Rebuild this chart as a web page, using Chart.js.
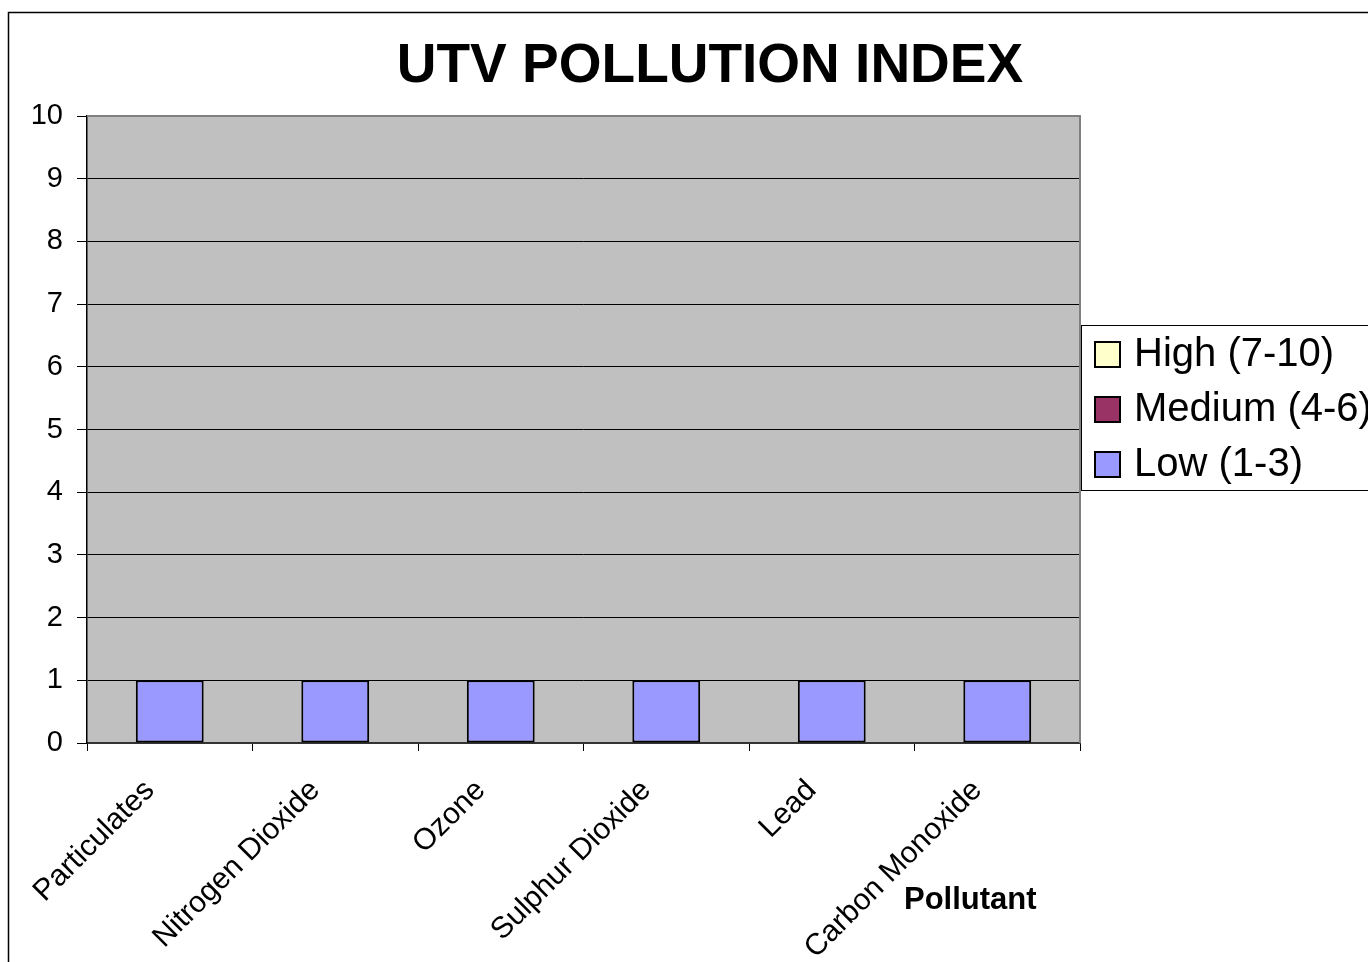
<!DOCTYPE html>
<html lang="en">
<head>
    <meta charset="UTF-8">
    <title>UTV Pollution Index</title>
    <script src="https://cdn.jsdelivr.net/npm/chart.js"></script>
    <style>
        html, body {
            margin: 0;
            padding: 0;
            background: #ffffff;
            overflow: hidden;
            width: 1368px;
            height: 962px;
        }
        canvas {
            display: block;
        }
    </style>
</head>
<body>
    <canvas id="pollutionChart" width="1420" height="980"></canvas>

    <script>
        const FONT = "'Liberation Sans', Arial, sans-serif";

        const pollutants = ["Particulates", "Nitrogen Dioxide", "Ozone", "Sulphur Dioxide", "Lead", "Carbon Monoxide"];
        const lowValues = [1, 1, 1, 1, 1, 1];
        const mediumValues = [0, 0, 0, 0, 0, 0];
        const highValues = [0, 0, 0, 0, 0, 0];
        const yTicks = [0, 1, 2, 3, 4, 5, 6, 7, 8, 9, 10];

        // gray plot area, outer frame, legend box and the axis title
        const excelLook = {
            id: "excelLook",
            beforeDraw(chart) {
                const ctx = chart.ctx;
                const a = chart.chartArea;
                ctx.save();
                ctx.fillStyle = "#ffffff";
                ctx.fillRect(0, 0, chart.width, chart.height);
                ctx.strokeStyle = "#000000";
                ctx.lineWidth = 1.5;
                ctx.strokeRect(8.5, 12.5, 3000, 3000);
                ctx.fillStyle = "#C0C0C0";
                ctx.fillRect(a.left, a.top, a.right - a.left, a.bottom - a.top);
                ctx.restore();
            },
            afterDraw(chart) {
                const ctx = chart.ctx;
                const a = chart.chartArea;
                ctx.save();

                // plot border top + right
                ctx.strokeStyle = "#808080";
                ctx.lineWidth = 2;
                ctx.beginPath();
                ctx.moveTo(a.left, a.top);
                ctx.lineTo(a.right, a.top);
                ctx.lineTo(a.right, a.bottom);
                ctx.stroke();

                // legend (reverse order, like a stacked column)
                const lx = a.right + 1, ly = 325;
                ctx.fillStyle = "#ffffff";
                ctx.fillRect(lx, ly, 400, 165);
                ctx.strokeStyle = "#000000";
                ctx.lineWidth = 1;
                ctx.strokeRect(lx + 0.5, ly + 0.5, 400, 165);
                const items = chart.data.datasets.slice().reverse();
                ctx.font = "40px " + FONT;
                ctx.textBaseline = "middle";
                ctx.textAlign = "left";
                items.forEach((ds, i) => {
                    const cy = ly + 29 + i * 55;
                    ctx.fillStyle = ds.backgroundColor;
                    ctx.fillRect(lx + 14, cy - 12, 25, 25);
                    ctx.lineWidth = 2;
                    ctx.strokeStyle = "#000000";
                    ctx.strokeRect(lx + 14, cy - 12, 25, 25);
                    ctx.fillStyle = "#000000";
                    ctx.fillText(ds.label, lx + 53, cy + 1);
                });

                // x axis title
                ctx.font = "bold 31px " + FONT;
                ctx.textBaseline = "alphabetic";
                ctx.fillStyle = "#000000";
                ctx.fillText("Pollutant", a.right - 176, a.bottom + 166);
                ctx.restore();
            }
        };

        new Chart(document.getElementById("pollutionChart"), {
            type: "bar",
            data: {
                labels: pollutants,
                datasets: [
                    { label: "Low (1-3)", data: lowValues, backgroundColor: "#9999FF", borderColor: "#000000", borderWidth: 2 },
                    { label: "Medium (4-6)", data: mediumValues, backgroundColor: "#993366", borderColor: "#000000", borderWidth: 2 },
                    { label: "High (7-10)", data: highValues, backgroundColor: "#FFFFCC", borderColor: "#000000", borderWidth: 2 }
                ]
            },
            options: {
                responsive: false,
                animation: false,
                layout: { padding: 0 },
                datasets: {
                    bar: { barPercentage: 0.41, categoryPercentage: 1, borderSkipped: false }
                },
                plugins: {
                    legend: { display: false },
                    tooltip: { enabled: false },
                    title: {
                        display: true,
                        text: "UTV POLLUTION INDEX",
                        color: "#000000",
                        font: { family: FONT, size: 55, weight: "bold" },
                        padding: { top: 34, bottom: 16 }
                    }
                },
                scales: {
                    x: {
                        stacked: true,
                        grid: { drawOnChartArea: false, drawTicks: true, tickLength: 8, color: "#000000", offset: true },
                        border: { display: true, color: "#333333", width: 2 },
                        ticks: {
                            color: "#000000",
                            font: { family: FONT, size: 30 },
                            maxRotation: 45,
                            minRotation: 45,
                            autoSkip: false,
                            padding: 22,
                            labelOffset: -20
                        },
                        afterFit(scale) { scale.height = 237; }
                    },
                    y: {
                        stacked: true,
                        min: 0,
                        max: 10,
                        afterBuildTicks(scale) { scale.ticks = yTicks.map(v => ({ value: v })); },
                        grid: { color: "#000000", lineWidth: 1, tickLength: 10 },
                        border: { display: true, color: "#000000", width: 1.5 },
                        ticks: {
                            color: "#000000",
                            font: { family: FONT, size: 29 },
                            padding: 14
                        },
                        afterFit(scale) { scale.width = 87; }
                    },
                    // empty right-hand box that leaves room for the legend
                    legendRoom: {
                        position: "right",
                        display: true,
                        grid: { display: false, drawTicks: false },
                        border: { display: false },
                        ticks: { display: false },
                        afterFit(scale) { scale.width = 340; }
                    }
                }
            },
            plugins: [excelLook]
        });
    </script>
</body>
</html>
